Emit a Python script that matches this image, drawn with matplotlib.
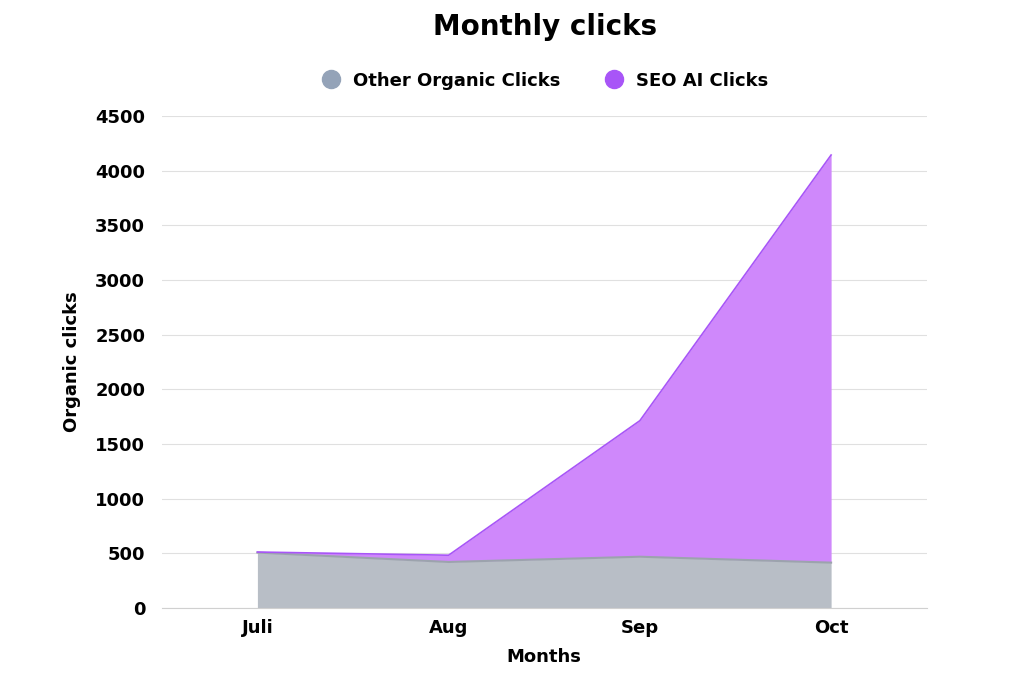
import matplotlib.pyplot as plt
from matplotlib.lines import Line2D

months = ["Juli", "Aug", "Sep", "Oct"]
other_clicks = [506, 420, 468, 414]
seo_ai_clicks = [5, 62, 1245, 3730]

fig = plt.figure(figsize=(10.24, 6.83), dpi=100)
ax = fig.add_axes([0.158, 0.110, 0.747, 0.720])

x = range(len(months))
top = [a + b for a, b in zip(other_clicks, seo_ai_clicks)]
ax.fill_between(x, 0, other_clicks, color="#b8bec6", lw=0)
ax.plot(x, other_clicks, color="#9ca3ad", lw=1.5)
ax.fill_between(x, other_clicks, top, color="#cf88fb", lw=0)
ax.plot(x, top, color="#a855f7", lw=1.2)

ax.set_xlim(-0.5, 3.5)
ax.set_ylim(0, 4500)
ax.set_yticks(range(0, 4501, 500))
ax.set_xticks(list(x))
ax.set_xticklabels(months)
ax.grid(axis="y", color="#e0e0e0", lw=0.8)
ax.set_axisbelow(True)
for s in ["top", "right", "left"]:
    ax.spines[s].set_visible(False)
ax.spines["bottom"].set_color("#d0d0d0")
ax.tick_params(length=0, labelsize=13, pad=8)
ax.tick_params(axis="y", pad=12)
for lab in ax.get_xticklabels() + ax.get_yticklabels():
    lab.set_fontweight("bold")

ax.set_xlabel("Months", fontsize=13, fontweight="bold", labelpad=8)
ax.set_ylabel("Organic clicks", fontsize=13, fontweight="bold", labelpad=10)
fig.text(0.532, 0.96, "Monthly clicks", fontsize=20, fontweight="bold",
         ha="center", va="center")

handles = [
    Line2D([], [], marker="o", ls="", markersize=13, color="#94a3b8"),
    Line2D([], [], marker="o", ls="", markersize=13, color="#a855f7"),
]
fig.legend(handles, ["Other Organic Clicks", "SEO AI Clicks"], loc="center",
           bbox_to_anchor=(0.528, 0.882), ncol=2, frameon=False,
           prop={"weight": "bold", "size": 13}, handletextpad=0.2, columnspacing=2.0)

fig.savefig("out.png", dpi=100)
